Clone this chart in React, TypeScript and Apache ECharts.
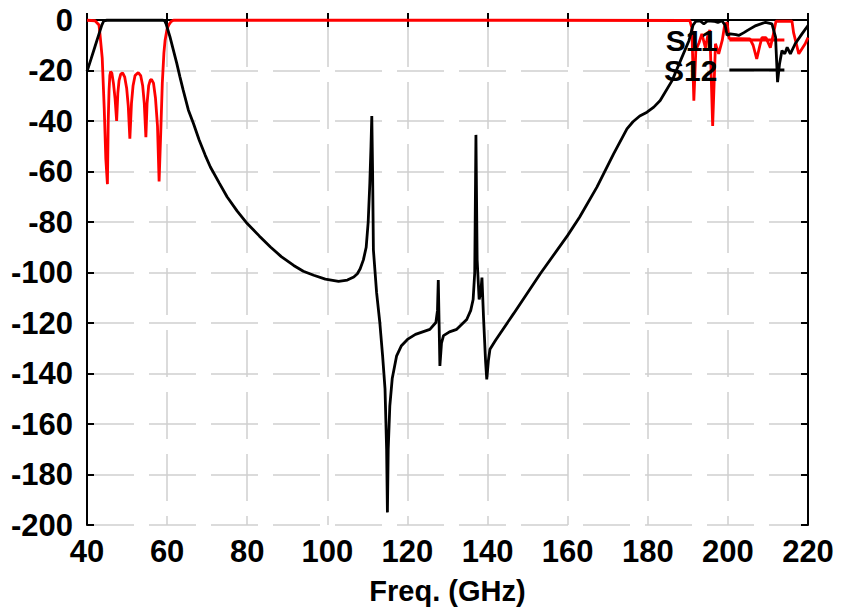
import React, { useEffect, useRef } from "react";
import * as echarts from "echarts";

// Frequency axis ticks (GHz) and magnitude ticks (dB)
const xTicks = [40, 60, 80, 100, 120, 140, 160, 180, 200, 220];
const yTicks = [0, -20, -40, -60, -80, -100, -120, -140, -160, -180, -200];

// S11 (red)
const s11Freq = [
  40, 42, 43, 43.2, 43.8, 44.3, 44.7, 45.1, 45.3, 45.5, 45.7, 45.9, 46.2, 46.6, 47.0, 47.4,
  47.7, 48.0, 48.4, 48.9, 49.4, 49.9, 50.3, 50.7, 51.1, 51.5, 52.0, 52.8, 53.4, 53.9, 54.3,
  54.7, 55.0, 55.4, 55.8, 56.1, 56.6, 57.1, 57.6, 58.0, 58.4, 58.8, 59.2, 59.5, 60.0, 60.4,
  61.0, 61.6, 100, 150, 190.5, 191.0, 191.5, 192.0, 192.8, 193.5, 194.4, 195.0, 195.5, 196.2,
  196.9, 197.7, 198.6, 199.2, 199.8, 200.3, 203, 205.5, 206.3, 207.2, 208.0, 208.5, 209.5,
  210.6, 211.3, 212, 216, 216.4, 217.7, 219.3, 220,
];
const s11Db = [
  -0.1, -0.3, -2, -5, -15, -35, -55, -65, -40, -28, -22, -20.4, -21, -25, -31, -40,
  -29, -24, -21.5, -21, -22.5, -27, -34, -47, -33, -26, -22, -20.8, -22, -26, -33,
  -46.4, -33, -26, -23.8, -23.5, -25, -31, -42, -63.9, -45, -25, -13, -8, -3.5, -2,
  -0.6, -0.1, -0.1, -0.1, -0.2, -3, -32, -12, -9, -5.5, -11, -6, -4, -42,
  -9.4, -13.4, -8, -2, -1, -7.4, -7.4, -7.5, -10, -15.4, -10, -7, -7,
  -11, -6, -0.5, -0.5, -5, -13.4, -9.4, -7,
];

// S12 (black)
const s12Freq = [
  40, 41, 42, 43, 43.7, 44.2, 45, 52, 59, 59.4, 59.8, 60.7, 61.5, 62.4, 63.2, 64, 65.3, 66.6,
  68, 69.5, 70.8, 73, 75, 77.5, 80, 83, 85.8, 88.5, 91.6, 94, 96.6, 99.5, 102.8, 105, 106.6,
  107.5, 108.2, 109, 109.7, 110.2, 110.6, 110.9, 111.1, 111.3, 111.5, 112.3, 113.1, 113.8,
  114.4, 114.8, 115.0, 115.2, 115.6, 116.2, 117.3, 118.5, 120, 122, 125.6, 127.1, 127.5, 127.7,
  127.9, 128.1, 128.5, 129, 130.5, 132.3, 134.8, 135.8, 136.4, 136.8, 137.1, 137.4, 137.9,
  138.3, 138.6, 139.0, 139.5, 139.8, 140.2, 140.6, 142, 146.5, 153.2, 160, 163, 167.3, 171.5,
  174.8, 176.3, 178, 179.8, 181.5, 183.1, 186.1, 188.2, 190.3, 191.3, 192, 193, 194, 195,
  196.5, 197.5, 198.5, 199.3, 199.8, 200.6, 202, 202.7, 204, 205, 207, 209.4, 211, 211.9,
  212.4, 212.9, 213.5, 214.2, 214.8, 215.6, 216.8, 218.5, 220,
];
const s12Db = [
  -20.4, -15.5, -10.5, -5.5, -2, -0.3, -0.1, -0.1, -0.1, -0.4, -1.8, -6.6, -11.5, -17.1, -22.5,
  -27.7, -35.6, -41.1, -47.5, -53.5, -58.2, -64.5, -70.1, -75.7, -80.6, -85.5, -89.9, -93.7,
  -97.2, -99.5, -101.1, -102.6, -103.5, -103, -101.8, -100.5, -98.5, -95, -90, -80, -65, -50,
  -38, -60, -91, -108, -119.8, -133, -146, -170, -195, -170, -152.8, -142, -133, -129, -126.5,
  -124.5, -122.5, -119.8, -115, -103, -120, -137, -128, -125, -123.5, -122.5, -118.6, -115,
  -110.7, -100, -45.5, -95, -110.7, -108, -102, -118, -135, -142.3, -135, -130.4, -126.8,
  -116.3, -100.4, -85.3, -78, -66.2, -52.9, -43.1, -40.3, -38, -36.5, -34.5, -31.9, -23.9,
  -16, -8.1, -2, -0.5, -0.3, -1.5, -0.3, -0.5, -1, -0.3, -2, -6, -5.5, -5.8, -6.1, -5, -4,
  -2.2, -0.9, -1.5, -6.8, -24.6, -17.3, -12.1, -13.4, -10.8, -13.4, -9.4, -5.5, -2.2,
];

const FONT = "'Liberation Sans', Arial, sans-serif";

export default function App() {
  const ref = useRef<HTMLDivElement>(null);
  useEffect(() => {
    if (!ref.current) return;
    const chart = echarts.init(ref.current, null, { renderer: "svg" });
    const s11 = s11Freq.map((f, i) => [f, s11Db[i]]);
    const s12 = s12Freq.map((f, i) => [f, s12Db[i]]);
    const xMin = xTicks[0];
    const xMax = xTicks[xTicks.length - 1];
    const yMin = yTicks[yTicks.length - 1];
    const yMax = yTicks[0];
    const frameLine = { show: true, lineStyle: { color: "#000", width: 2 } };
    const inTick = { show: true, inside: true, length: 7, lineStyle: { color: "#000", width: 2 } };
    const labelStyle = { color: "#000", fontFamily: FONT, fontWeight: "bold" as const, fontSize: 31 };
    chart.setOption({
      animation: false,
      backgroundColor: "#fff",
      grid: { left: 87, right: 35, top: 20, bottom: 84, containLabel: false },
      legend: {
        orient: "vertical",
        left: 664,
        top: 25,
        align: "right",
        icon: "rect",
        itemWidth: 55,
        itemHeight: 3,
        itemGap: 0,
        padding: 0,
        data: ["S11", "S12"],
        textStyle: { ...labelStyle, fontSize: 30, lineHeight: 27, padding: [0, 7, 0, 0] },
      },
      xAxis: [
        {
          type: "value",
          min: xMin,
          max: xMax,
          interval: 20,
          position: "bottom",
          axisLine: frameLine,
          axisTick: inTick,
          axisLabel: { ...labelStyle, margin: 11 },
          name: "Freq. (GHz)",
          nameLocation: "middle",
          nameGap: 51,
          nameTextStyle: { ...labelStyle, fontSize: 29 },
          splitLine: { show: true, lineStyle: { color: "#cfcfcf", width: 1.5, type: [47, 15] } },
        },
        {
          type: "value",
          min: xMin,
          max: xMax,
          interval: 20,
          position: "top",
          axisLine: frameLine,
          axisTick: inTick,
          axisLabel: { show: false },
          splitLine: { show: false },
        },
      ],
      yAxis: [
        {
          type: "value",
          min: yMin,
          max: yMax,
          interval: 20,
          position: "left",
          axisLine: frameLine,
          axisTick: inTick,
          axisLabel: { ...labelStyle, margin: 14 },
          splitLine: { show: true, lineStyle: { color: "#cfcfcf", width: 1.5, type: [47, 15] } },
        },
        {
          type: "value",
          min: yMin,
          max: yMax,
          interval: 20,
          position: "right",
          axisLine: frameLine,
          axisTick: inTick,
          axisLabel: { show: false },
          splitLine: { show: false },
        },
      ],
      series: [
        {
          name: "S11",
          type: "line",
          data: s11,
          symbol: "none",
          clip: false,
          lineStyle: { color: "#ff0000", width: 2.8 },
          itemStyle: { color: "#ff0000" },
          z: 3,
        },
        {
          name: "S12",
          type: "line",
          data: s12,
          symbol: "none",
          clip: false,
          lineStyle: { color: "#000000", width: 2.8 },
          itemStyle: { color: "#000000" },
          z: 4,
        },
      ],
    });
    return () => chart.dispose();
  }, []);
  return (
    <div
      ref={ref}
      style={{ position: "fixed", left: 0, top: 0, width: 843, height: 610, background: "#fff" }}
    />
  );
}
